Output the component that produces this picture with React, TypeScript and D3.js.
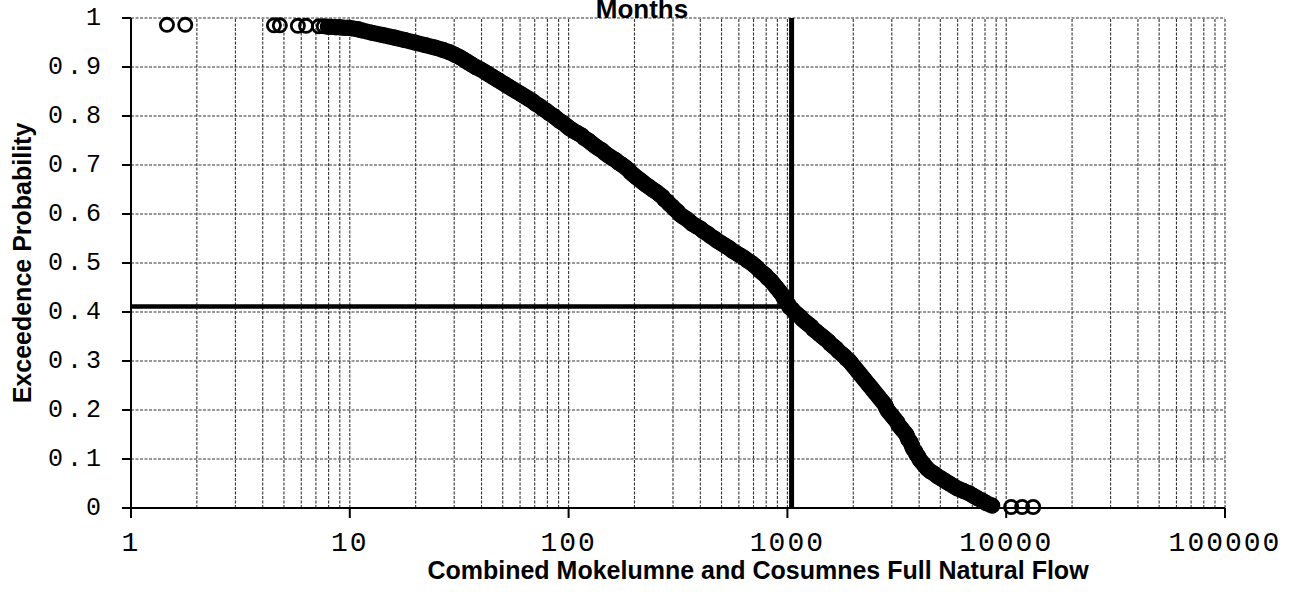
import React from 'react';
import * as d3 from 'd3';

// exceedance curve: [flow, exceedance probability]
const lowTail: [number, number][] = [
  [1.46, 0.986], [1.77, 0.986], [4.5, 0.985], [4.79, 0.985], [5.79, 0.984], [6.31, 0.984],
];

const curve: [number, number][] = [
  [7.22, 0.983], [7.61, 0.983], [7.94, 0.982], [8.28, 0.982], [8.63, 0.981], [9.0, 0.981],
  [9.39, 0.98], [9.79, 0.98], [10.2, 0.979], [10.9, 0.977], [11.3, 0.975],
  [12.6, 0.97], [14.2, 0.965], [16.0, 0.96], [17.8, 0.955], [19.8, 0.95], [22.0, 0.945],
  [24.4, 0.94], [26.6, 0.935], [28.6, 0.93], [30.2, 0.925], [31.8, 0.92], [33.2, 0.915],
  [34.6, 0.91], [36.1, 0.905], [37.6, 0.9], [39.6, 0.895], [41.4, 0.89], [43.1, 0.885],
  [45.0, 0.88], [46.9, 0.875], [48.9, 0.87], [51.0, 0.865], [53.2, 0.86], [55.5, 0.855],
  [57.9, 0.85], [60.4, 0.845], [63.0, 0.84], [65.7, 0.835], [68.5, 0.83], [70.7, 0.825],
  [73.8, 0.82], [76.1, 0.815], [79.4, 0.81], [81.9, 0.805], [85.4, 0.8], [88.1, 0.795],
  [91.0, 0.79], [94.9, 0.785], [97.9, 0.78], [101, 0.775], [105, 0.77], [110, 0.765],
  [115, 0.76], [118, 0.755], [123, 0.75], [127, 0.745], [131, 0.74], [136, 0.735],
  [142, 0.73], [146, 0.725], [151, 0.72], [157, 0.715], [164, 0.71], [169, 0.705],
  [176, 0.7], [182, 0.695], [188, 0.69], [192, 0.685], [198, 0.68], [204, 0.675],
  [211, 0.67], [218, 0.665], [225, 0.66], [234, 0.655], [242, 0.65], [252, 0.645],
  [260, 0.64], [269, 0.635], [274, 0.63], [283, 0.625], [289, 0.62], [298, 0.615],
  [305, 0.61], [315, 0.605], [321, 0.6], [332, 0.595], [346, 0.59], [357, 0.585],
  [368, 0.58], [384, 0.575], [401, 0.57], [413, 0.565], [431, 0.56], [445, 0.555],
  [464, 0.55], [479, 0.545], [500, 0.54], [521, 0.535], [543, 0.53], [561, 0.525],
  [585, 0.52], [610, 0.515], [636, 0.51], [657, 0.505], [685, 0.5], [707, 0.495],
  [729, 0.49], [745, 0.485], [769, 0.48], [794, 0.475], [810, 0.47], [836, 0.465],
  [854, 0.46], [872, 0.455], [891, 0.45], [910, 0.445], [929, 0.44], [949, 0.435],
  [959, 0.43], [979, 0.425], [990, 0.42], [1011, 0.415], [1021, 0.41], [1054, 0.405],
  [1076, 0.4], [1111, 0.395], [1146, 0.39], [1171, 0.385], [1208, 0.38], [1247, 0.375],
  [1287, 0.37], [1314, 0.365], [1357, 0.36], [1400, 0.355], [1445, 0.35], [1491, 0.345],
  [1539, 0.34], [1572, 0.335], [1622, 0.33], [1674, 0.325], [1710, 0.32], [1764, 0.315],
  [1821, 0.31], [1860, 0.305], [1919, 0.3], [1960, 0.295], [2000, 0.29], [2044, 0.285],
  [2088, 0.28], [2132, 0.275], [2177, 0.27], [2223, 0.265], [2271, 0.26], [2320, 0.255],
  [2368, 0.25], [2419, 0.245], [2470, 0.24], [2520, 0.235], [2577, 0.23], [2631, 0.225],
  [2687, 0.22], [2744, 0.215], [2802, 0.21], [2830, 0.205], [2863, 0.2], [2922, 0.195],
  [2985, 0.19], [3048, 0.185], [3113, 0.18], [3180, 0.175], [3213, 0.17], [3281, 0.165],
  [3351, 0.16], [3422, 0.155], [3495, 0.15], [3534, 0.145], [3569, 0.14], [3645, 0.135],
  [3683, 0.13], [3722, 0.125], [3762, 0.12], [3842, 0.115], [3882, 0.11], [3964, 0.105],
  [4006, 0.1], [4091, 0.095], [4178, 0.09], [4267, 0.085], [4362, 0.08], [4497, 0.075],
  [4690, 0.07], [4846, 0.065], [5049, 0.06], [5265, 0.055], [5492, 0.05], [5728, 0.045],
  [5980, 0.04], [6363, 0.035], [6777, 0.03], [7070, 0.025], [7380, 0.02], [7770, 0.015],
  [8103, 0.01], [8630, 0.005],
];

const highTail: [number, number][] = [
  [10540, 0.002], [11830, 0.002], [13280, 0.002],
];

// reference cross-hair
const refFlow = 1045;
const refProb = 0.411;

const decadeTicks = [1, 10, 100, 1000, 10000, 100000];
const probTicks = [0, 0.1, 0.2, 0.3, 0.4, 0.5, 0.6, 0.7, 0.8, 0.9, 1];
const probLabels = ['0', '0.1', '0.2', '0.3', '0.4', '0.5', '0.6', '0.7', '0.8', '0.9', '1'];

const W = 1296;
const H = 595;
const margin = { left: 131, right: 71, top: 18, bottom: 87 };

export default function App() {
  const x = d3.scaleLog().domain([1, 100000]).range([margin.left, W - margin.right]);
  const y = d3.scaleLinear().domain([0, 1]).range([H - margin.bottom, margin.top]);

  const gridX = x.ticks();
  const points = [...lowTail, ...curve, ...highTail];
  // the overlapping markers merge into a solid band; a wide stroke fills the gaps
  const band = d3
    .line<[number, number]>()
    .x((d) => x(d[0]))
    .y((d) => y(d[1]));
  const mono = '"Liberation Mono", "DejaVu Sans Mono", monospace';
  const sans = '"Liberation Sans", Arial, sans-serif';

  return (
    <svg width={W} height={H} style={{ position: 'absolute', left: 0, top: 0, background: '#fff' }}>
      <rect width={W} height={H} fill="#fff" />
      {/* grid */}
      <g stroke="#333" strokeWidth={1.1} strokeDasharray="3 1.5" fill="none">
        {gridX.map((v) => (
          <line key={'gx' + v} x1={x(v)} x2={x(v)} y1={y(0)} y2={y(1)} />
        ))}
        {probTicks.map((p) => (
          <line key={'gy' + p} x1={x(1)} x2={x(100000)} y1={y(p)} y2={y(p)} />
        ))}
      </g>

      {/* axes */}
      <g stroke="#000" strokeWidth={2}>
        <line x1={x(1)} x2={x(1)} y1={y(1)} y2={y(0) + 1} />
        <line x1={x(1) - 1} x2={x(100000)} y1={y(0)} y2={y(0)} />
        {probTicks.map((p) => (
          <line key={'ty' + p} x1={x(1) - 9} x2={x(1)} y1={y(p)} y2={y(p)} />
        ))}
        {decadeTicks.map((v) => (
          <line key={'tx' + v} x1={x(v)} x2={x(v)} y1={y(0)} y2={y(0) + 10} />
        ))}
      </g>

      {/* reference lines */}
      <line x1={x(1)} x2={x(refFlow)} y1={y(refProb)} y2={y(refProb)} stroke="#000" strokeWidth={4.5} />
      <line x1={x(refFlow)} x2={x(refFlow)} y1={y(1)} y2={y(0)} stroke="#000" strokeWidth={5} />

      {/* data */}
      <path
        d={band(curve.slice(2)) ?? ''}
        fill="none"
        stroke="#000"
        strokeWidth={16}
        strokeLinecap="round"
        strokeLinejoin="round"
      />
      <g fill="none" stroke="#000" strokeWidth={2.8}>
        {points.map(([f, p], i) => (
          <circle key={i} cx={x(f)} cy={y(p)} r={6.6} />
        ))}
      </g>

      {/* tick labels */}
      <g fontFamily={mono} fontSize={25} fill="#000" textAnchor="end" style={{ letterSpacing: '4px' }}>
        {probTicks.map((p, i) => (
          <text key={'ly' + p} x={105} y={y(p)} dominantBaseline="central">
            {probLabels[i]}
          </text>
        ))}
      </g>
      <g fontFamily={mono} fontSize={28} fill="#000" textAnchor="middle" style={{ letterSpacing: '2px' }}>
        {decadeTicks.map((v) => (
          <text key={'lx' + v} x={x(v)} y={551}>
            {String(v)}
          </text>
        ))}
      </g>

      {/* titles */}
      <text x={642} y={18} fontFamily={sans} fontWeight="bold" fontSize={26} textAnchor="middle">
        Months
      </text>
      <text x={758} y={579} fontFamily={sans} fontWeight="bold" fontSize={25} textAnchor="middle">
        Combined Mokelumne and Cosumnes Full Natural Flow
      </text>
      <text
        transform="translate(31,263) rotate(-90)"
        fontFamily={sans}
        fontWeight="bold"
        fontSize={25}
        textAnchor="middle"
      >
        Exceedence Probability
      </text>
    </svg>
  );
}
